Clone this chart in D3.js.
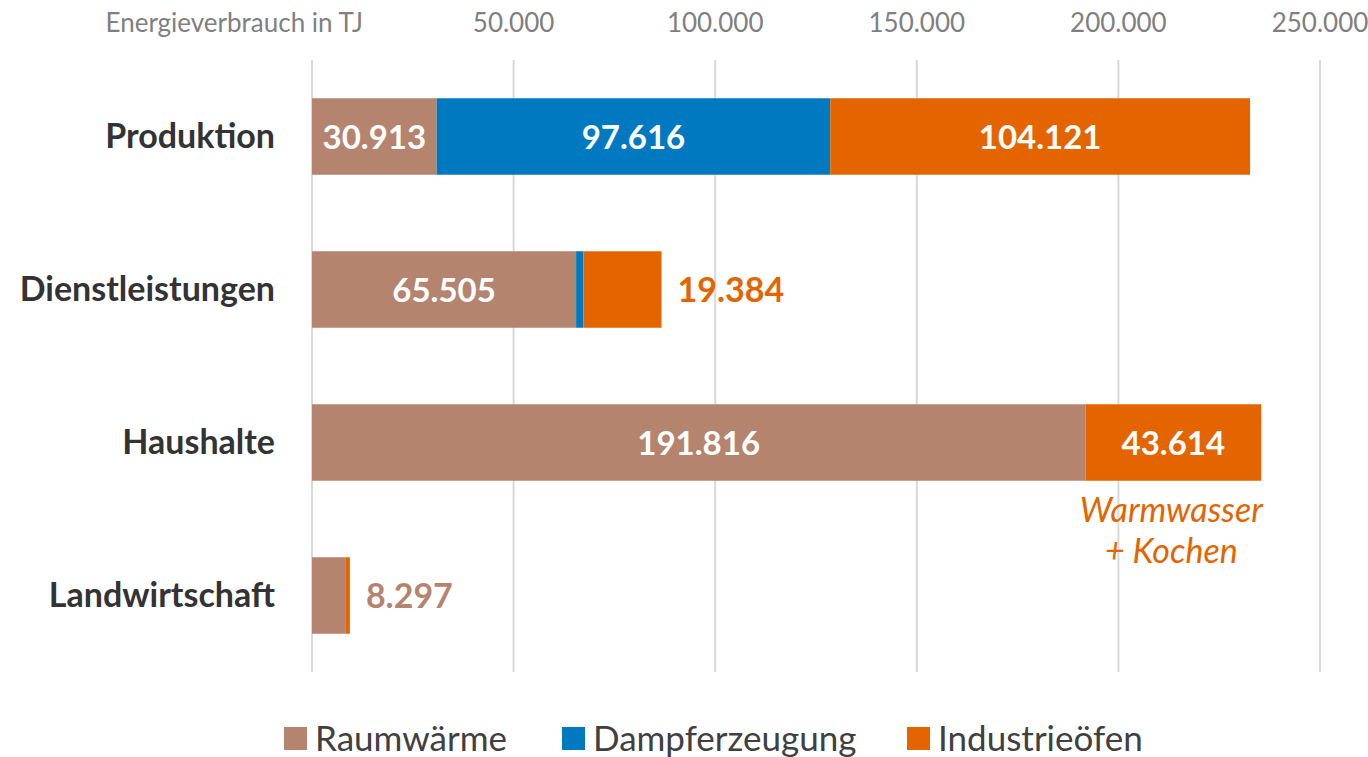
<!DOCTYPE html>
<html>
<head>
  <meta charset="utf-8">
  <script src="https://d3js.org/d3.v7.min.js"></script>
  <style>
    body { margin: 0; background: #fff; }
    text { font-family: Lato, "Open Sans", sans-serif; }
  </style>
</head>
<body>
  <div id="chart"></div>
  <script>
    const categories = ["Produktion", "Dienstleistungen", "Haushalte", "Landwirtschaft"];
    const seriesNames = ["Raumwärme", "Dampferzeugung", "Industrieöfen"];
    const raumwaerme = [30913, 65505, 191816, 8297];
    const dampf = [97616, 1800, 0, 100];
    const industrie = [104121, 19384, 43614, 1000];
    const tickValues = [0, 50000, 100000, 150000, 200000, 250000];
    const colors = ["#B5846F", "#0079C1", "#E46500"];

    const width = 1368, height = 757;
    const svg = d3.select("#chart").append("svg").attr("width", width).attr("height", height);

    const x = d3.scaleLinear().domain([0, 250000]).range([312, 1320]);
    const y = d3.scaleBand().domain(categories).range([60, 672]).paddingInner(0.5).paddingOuter(0.25);

    const fmt = d3.formatLocale({ decimal: ",", thousands: ".", grouping: [3], currency: ["", "€"] }).format(",d");

    // grid
    svg.append("g").selectAll("line").data(tickValues).join("line")
      .attr("x1", d => x(d)).attr("x2", d => x(d))
      .attr("y1", 60).attr("y2", 672)
      .attr("stroke", "#d9d9d9").attr("stroke-width", 2);

    // top tick labels
    svg.append("g").selectAll("text").data(tickValues.slice(1)).join("text")
      .attr("x", d => x(d)).attr("y", 32)
      .attr("text-anchor", "middle")
      .attr("font-size", 26).attr("fill", "#7f7f7f")
      .text(d => fmt(d));
    svg.append("text").attr("x", 363).attr("y", 32).attr("text-anchor", "end")
      .attr("font-size", 26).attr("fill", "#7f7f7f").text("Energieverbrauch in TJ");

    const rows = categories.map((c, i) => ({ cat: c, vals: [raumwaerme[i], dampf[i], industrie[i]] }));
    const stack = d3.stack().keys([0, 1, 2]).value((d, k) => d.vals[k]);
    const layers = stack(rows);

    const g = svg.append("g");
    layers.forEach((layer, k) => {
      g.selectAll(null).data(layer).join("rect")
        .attr("x", d => x(d[0]))
        .attr("width", d => Math.max(0, x(d[1]) - x(d[0])))
        .attr("y", d => y(d.data.cat))
        .attr("height", y.bandwidth())
        .attr("fill", colors[k]);
    });

    // labels inside bars
    const inside = [
      [0, 0], [0, 1], [0, 2], [1, 0], [2, 0], [2, 2]
    ];
    inside.forEach(([ci, k]) => {
      const d = layers[k][ci];
      svg.append("text")
        .attr("x", (x(d[0]) + x(d[1])) / 2)
        .attr("y", y(categories[ci]) + y.bandwidth() / 2 + 12)
        .attr("text-anchor", "middle")
        .attr("font-size", 33).attr("font-weight", "bold").attr("fill", "#fff")
        .text(fmt(d[1] - d[0]));
    });

    // outside labels
    const dl = layers[2][1];
    svg.append("text").attr("x", x(dl[1]) + 16).attr("y", y("Dienstleistungen") + y.bandwidth() / 2 + 12)
      .attr("font-size", 34).attr("font-weight", "bold").attr("fill", colors[2])
      .text(fmt(industrie[1]));
    const lw = layers[2][3];
    svg.append("text").attr("x", x(lw[1]) + 16).attr("y", y("Landwirtschaft") + y.bandwidth() / 2 + 12)
      .attr("font-size", 34).attr("font-weight", "bold").attr("fill", colors[0])
      .text(fmt(raumwaerme[3]));

    const hh = layers[2][2];
    const hx = (x(hh[0]) + x(hh[1])) / 2 - 2;
    svg.append("text").attr("x", hx).attr("y", 522).attr("text-anchor", "middle")
      .attr("font-size", 34).attr("font-style", "italic").attr("fill", colors[2]).text("Warmwasser");
    svg.append("text").attr("x", hx).attr("y", 563).attr("text-anchor", "middle")
      .attr("font-size", 34).attr("font-style", "italic").attr("fill", colors[2]).text("+ Kochen");

    // category labels
    svg.append("g").selectAll("text").data(categories).join("text")
      .attr("x", 275).attr("y", d => y(d) + y.bandwidth() / 2 + 11)
      .attr("text-anchor", "end")
      .attr("font-size", 34).attr("font-weight", "bold").attr("fill", "#333")
      .text(d => d);

    // legend
    const legX = [284, 562, 907];
    const leg = svg.append("g").selectAll("g").data(seriesNames).join("g")
      .attr("transform", (d, i) => `translate(${legX[i]},0)`);
    leg.append("rect").attr("x", 0).attr("y", 727).attr("width", 23).attr("height", 23)
      .attr("fill", (d, i) => colors[i]);
    leg.append("text").attr("x", 31).attr("y", 751)
      .attr("font-size", 35).attr("fill", "#404040").text(d => d);
  </script>
</body>
</html>
